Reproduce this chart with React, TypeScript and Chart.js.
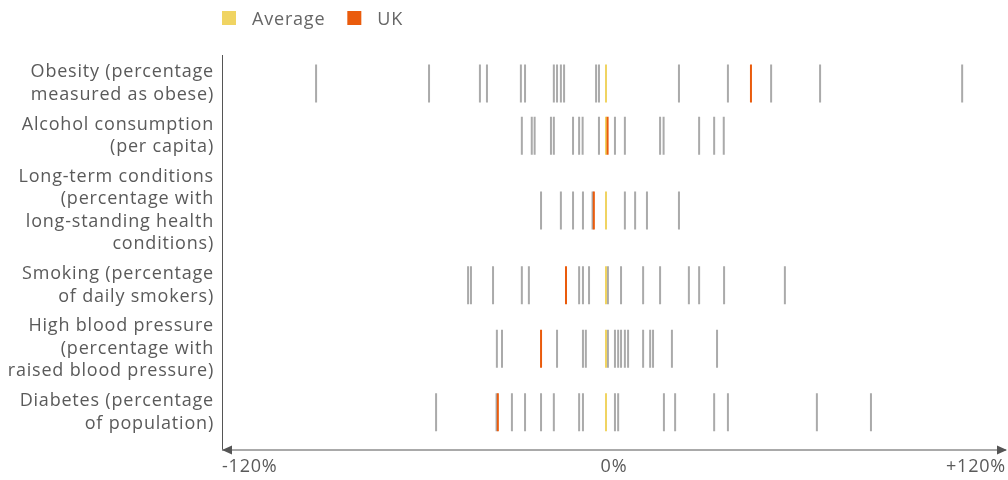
import React, { useEffect, useRef } from "react";
import { Chart, registerables } from "chart.js";

Chart.register(...registerables);

// ---- data ----
const categories: string[][] = [
  ["Obesity (percentage", "measured as obese)"],
  ["Alcohol consumption", "(per capita)"],
  ["Long-term conditions", "(percentage with", "long-standing health", "conditions)"],
  ["Smoking (percentage", "of daily smokers)"],
  ["High blood pressure", "(percentage with", "raised blood pressure)"],
  ["Diabetes (percentage", "of population)"],
];

const obesityCountries = [-90.6, -55.3, -39.4, -37.2, -26.6, -25.3, -16.3, -15.3, -14.1, -13.1, -3.1, -2.2, 22.8, 38.1, 51.6, 66.9, 111.3];
const alcoholCountries = [-26.3, -23.2, -22.3, -17.2, -16.3, -10.3, -8.4, -7.3, -2.2, 2.8, 5.9, 16.9, 18.0, 29.1, 33.8, 36.8];
const longTermCountries = [-20.3, -14.1, -10.3, -7.2, -4.2, 5.9, 9.1, 12.8, 22.8];
const smokingCountries = [-43.1, -42.2, -35.3, -26.3, -24.1, -8.4, -7.2, -5.3, 0.6, 4.7, 11.6, 16.9, 25.9, 29.1, 36.9, 55.9];
const bloodPressureCountries = [-34.1, -32.5, -15.3, -7.2, -6.3, 0.6, 2.8, 3.8, 4.7, 5.9, 6.9, 11.6, 13.8, 14.7, 20.6, 34.7];
const diabetesCountries = [-53.1, -34.2, -29.4, -25.3, -20.3, -16.3, -8.4, -7.2, 2.8, 3.8, 18.1, 21.6, 33.8, 38.1, 65.9, 82.8];

const averageValues = [0, 0, 0, 0, 0, 0];
const ukValues = [45.3, 0.5, -3.8, -12.5, -20.3, -33.8];

const xTickValues = [-120, 0, 120];
const xTickLabels = ["-120%", "0%", "+120%"];

// ---- styles ----
const FONT = "'Open Sans', 'DejaVu Sans', sans-serif";
const FONT_SIZE = 18;
const LETTER_SPACING = "0.8px";
const TEXT = "#5a5a5a";
const GREY = "#aaaaaa";
const YELLOW = "#f0d462";
const ORANGE = "#ea5b0c";
const AXIS = "#555555";

// row layout derived from label line counts (in "line" units)
const GAP = 1 / 3;
const TOP_PAD = 0.1;
const BOTTOM_PAD = 0.5;
const rowCenters: number[] = [];
{
  let acc = TOP_PAD;
  categories.forEach((c) => {
    const h = c.length + GAP;
    rowCenters.push(acc + h / 2);
    acc += h;
  });
}
const yMax = TOP_PAD + categories.reduce((s, c) => s + c.length + GAP, 0) + BOTTOM_PAD;

const countryRows = [
  obesityCountries,
  alcoholCountries,
  longTermCountries,
  smokingCountries,
  bloodPressureCountries,
  diabetesCountries,
];

const spacingPlugin = {
  id: "letterSpacing",
  beforeLayout(chart: any) {
    (chart.ctx as any).letterSpacing = LETTER_SPACING;
  },
  beforeDraw(chart: any) {
    (chart.ctx as any).letterSpacing = LETTER_SPACING;
  },
};

const axesPlugin = {
  id: "axesAndLegend",
  afterDraw(chart: any) {
    const { ctx, chartArea } = chart;
    const { left, right, top, bottom } = chartArea;
    ctx.save();
    ctx.strokeStyle = AXIS;
    ctx.fillStyle = AXIS;
    ctx.lineWidth = 1;
    // y axis
    ctx.beginPath();
    ctx.moveTo(left + 0.5, top);
    ctx.lineTo(left + 0.5, bottom);
    ctx.stroke();
    // x axis
    ctx.beginPath();
    ctx.moveTo(left, bottom + 0.5);
    ctx.lineTo(right, bottom + 0.5);
    ctx.stroke();
    // arrows
    const al = 10, ah = 4.5;
    ctx.beginPath();
    ctx.moveTo(left, bottom + 0.5);
    ctx.lineTo(left + al, bottom + 0.5 - ah);
    ctx.lineTo(left + al, bottom + 0.5 + ah);
    ctx.closePath();
    ctx.fill();
    ctx.beginPath();
    ctx.moveTo(right + 1, bottom + 0.5);
    ctx.lineTo(right + 1 - al, bottom + 0.5 - ah);
    ctx.lineTo(right + 1 - al, bottom + 0.5 + ah);
    ctx.closePath();
    ctx.fill();

    // legend
    ctx.font = `${FONT_SIZE}px ${FONT}`;
    ctx.textBaseline = "middle";
    ctx.textAlign = "left";
    let x = left;
    const cy = 18;
    chart.data.datasets.forEach((ds: any) => {
      if (!ds.inLegend) return;
      ctx.fillStyle = ds.borderColor;
      ctx.fillRect(x, cy - 7, 14, 14);
      x += 30;
      ctx.fillStyle = "#666666";
      ctx.fillText(ds.label, x, cy + 1.5);
      x += ctx.measureText(ds.label).width + 22;
    });
    ctx.restore();
  },
};

export default function App() {
  const ref = useRef<HTMLCanvasElement | null>(null);

  useEffect(() => {
    document.body.style.margin = "0";
    if (!ref.current) return;

    const greyPoints: { x: number; y: number }[] = [];
    countryRows.forEach((row, i) => row.forEach((v) => greyPoints.push({ x: v, y: rowCenters[i] })));

    const markStyle = {
      pointStyle: "line",
      rotation: 90,
      pointRadius: 19,
      pointHoverRadius: 19,
      pointBorderWidth: 2,
      showLine: false,
    };

    const chart = new Chart(ref.current, {
      type: "scatter",
      data: {
        datasets: [
          {
            label: "Average",
            inLegend: true,
            data: averageValues.map((v, i) => ({ x: v, y: rowCenters[i] })),
            borderColor: YELLOW,
            backgroundColor: YELLOW,
            order: 1,
            ...markStyle,
          } as any,
          {
            label: "UK",
            inLegend: true,
            data: ukValues.map((v, i) => ({ x: v, y: rowCenters[i] })),
            borderColor: ORANGE,
            backgroundColor: ORANGE,
            order: 0,
            ...markStyle,
          } as any,
          {
            label: "Countries",
            inLegend: false,
            data: greyPoints,
            borderColor: GREY,
            backgroundColor: GREY,
            order: 2,
            ...markStyle,
          } as any,
        ],
      },
      options: {
        animation: false,
        responsive: false,
        events: [],
        layout: { autoPadding: false, padding: { top: 55, right: 2, left: 0, bottom: 0 } },
        plugins: { legend: { display: false }, tooltip: { enabled: false } },
        scales: {
          x: {
            type: "linear",
            min: -120,
            max: 125,
            display: false,
          },
          xLabels: {
            type: "linear",
            position: "bottom",
            min: -120,
            max: 120,
            grid: { display: false, drawTicks: false },
            border: { display: false },
            afterBuildTicks: (scale: any) => {
              scale.ticks = xTickValues.map((v) => ({ value: v }));
            },
            afterFit: (scale: any) => {
              scale.height = 29;
              scale.paddingLeft = 0;
              scale.paddingRight = 0;
            },
            ticks: {
              align: "inner",
              padding: 7,
              color: TEXT,
              maxRotation: 0,
              autoSkip: false,
              font: { size: FONT_SIZE, family: FONT },
              callback: (_v: any, i: number) => xTickLabels[i],
            },
          },
          y: {
            type: "linear",
            reverse: true,
            min: 0,
            max: yMax,
            grid: { display: false, drawTicks: false },
            border: { display: false },
            afterBuildTicks: (scale: any) => {
              scale.ticks = rowCenters.map((v) => ({ value: v }));
            },
            afterFit: (scale: any) => {
              scale.width = 222;
            },
            ticks: {
              padding: 8,
              color: TEXT,
              autoSkip: false,
              font: { size: FONT_SIZE, family: FONT, lineHeight: 22.5 / FONT_SIZE },
              callback: (_v: any, i: number) => categories[i],
            },
          },
        },
      } as any,
      plugins: [spacingPlugin, axesPlugin],
    });
    return () => chart.destroy();
  }, []);

  return (
    <div style={{ width: 1008, height: 480 }}>
      <canvas ref={ref} width={1008} height={480} style={{ display: "block" }} />
    </div>
  );
}
